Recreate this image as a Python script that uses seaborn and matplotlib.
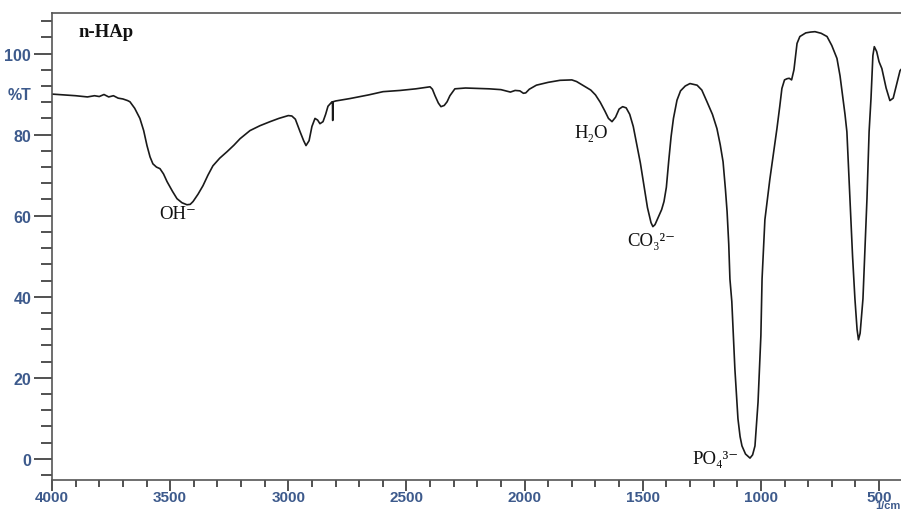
import pandas as pd
import matplotlib.pyplot as plt
import seaborn as sns
from matplotlib.ticker import MultipleLocator

# FTIR spectrum of n-HAp (10 values per row)
wavenumber = [
    4000, 3950, 3900, 3850, 3820, 3800, 3780, 3760, 3740, 3720,
    3700, 3680, 3670, 3650, 3628, 3612, 3598, 3585, 3573, 3558,
    3543, 3528, 3513, 3490, 3471, 3450, 3429, 3415, 3403, 3382,
    3361, 3340, 3319, 3290, 3259, 3230, 3204, 3162, 3120, 3077,
    3040, 3000, 2985, 2970, 2950, 2935, 2925, 2912, 2900, 2887,
    2876, 2866, 2853, 2842, 2832, 2815, 2813, 2812, 2811, 2800,
    2739, 2660, 2599, 2527, 2460, 2422, 2400, 2390, 2379, 2365,
    2354, 2340, 2328, 2316, 2295, 2250, 2200, 2150, 2100, 2080,
    2060, 2040, 2020, 2005, 1995, 1980, 1950, 1900, 1850, 1800,
    1780, 1760, 1740, 1720, 1700, 1680, 1660, 1645, 1630, 1615,
    1600, 1585, 1570, 1555, 1540, 1525, 1510, 1495, 1480, 1465,
    1457, 1448, 1435, 1420, 1410, 1400, 1390, 1380, 1370, 1355,
    1340, 1320, 1300, 1270, 1250, 1228, 1205, 1186, 1172, 1160,
    1150, 1143, 1136, 1131, 1123, 1110, 1097, 1088, 1080, 1065,
    1046, 1035, 1025, 1012, 1000, 995, 983, 962, 945, 932,
    920, 911, 900, 889, 880, 870, 860, 847, 835, 810,
    790, 771, 745, 720, 700, 678, 665, 653, 644, 636,
    623, 612, 602, 593, 587, 580, 568, 551, 542, 534,
    526, 520, 510, 500, 488, 470, 454, 440, 425, 411,
    400,
]
transmittance = [
    90.0, 89.8, 89.6, 89.3, 89.6, 89.4, 89.9, 89.3, 89.6, 89.0,
    88.8, 88.4, 88.1, 86.5, 84.0, 81.0, 77.3, 74.5, 72.8, 72.0,
    71.6, 70.3, 68.4, 66.0, 64.2, 63.2, 62.7, 62.8, 63.5, 65.3,
    67.4, 70.0, 72.3, 74.2, 75.8, 77.4, 79.0, 81.0, 82.2, 83.2,
    84.0, 84.7, 84.6, 83.8, 80.7, 78.5, 77.3, 78.5, 82.0, 84.0,
    83.6, 82.7, 83.2, 85.0, 87.0, 88.1, 88.1, 83.5, 88.1, 88.3,
    88.9, 89.8, 90.6, 90.9, 91.3, 91.6, 91.8, 91.2, 89.6, 87.8,
    86.9, 87.2, 88.1, 89.6, 91.3, 91.5, 91.4, 91.3, 91.1, 90.8,
    90.5, 90.9, 90.8, 90.2, 90.3, 91.2, 92.2, 92.9, 93.4, 93.5,
    93.1, 92.4, 91.7, 91.0, 89.8, 88.0, 85.8, 84.0, 83.2, 84.3,
    86.3, 86.9, 86.6, 85.0, 82.0, 77.5, 73.0, 67.5, 62.0, 58.3,
    57.3, 57.8, 59.5, 61.5, 63.5, 67.0, 73.5, 79.5, 84.0, 88.5,
    90.8, 92.0, 92.6, 92.2, 91.0, 88.1, 85.0, 81.5, 77.5, 73.3,
    66.5, 61.0, 53.0, 44.4, 38.8, 22.2, 9.9, 5.5, 3.2, 1.2,
    0.2, 1.0, 3.2, 14.0, 30.4, 44.4, 59.0, 69.0, 76.0, 81.5,
    87.0, 91.4, 93.5, 93.8, 93.9, 93.5, 96.0, 102.5, 104.2, 105.1,
    105.3, 105.4, 105.0, 104.2, 102.0, 98.8, 94.5, 89.0, 85.0, 80.7,
    64.2, 50.0, 39.5, 32.0, 29.4, 31.0, 39.5, 64.2, 80.7, 88.9,
    99.5, 101.7, 100.5, 98.0, 96.3, 91.5, 88.4, 89.0, 92.5, 95.8,
    96.5,
]

# peak annotations (label, wavenumber, %T)
peak_labels = ["OH⁻", "H₂O", "CO₃²⁻", "PO₄³⁻"]
peak_x = [3467, 1719, 1465, 1190]
peak_y = [60.5, 80.5, 53.8, 0.0]

df = pd.DataFrame({"wavenumber": wavenumber, "T": transmittance})

sns.set_style("ticks")

fig = plt.figure(figsize=(9.01, 5.10), dpi=100)
ax = fig.add_axes([0.0577, 0.0569, 0.9423, 0.9156])

sns.lineplot(data=df, x="wavenumber", y="T", sort=False, estimator=None,
             color="#1a1a1a", linewidth=1.2, ax=ax)

ax.set_xlim(4000, 407)
ax.set_ylim(-5.2, 110)
ax.xaxis.set_major_locator(MultipleLocator(500))
ax.xaxis.set_minor_locator(MultipleLocator(100))
ax.yaxis.set_major_locator(MultipleLocator(20))
ax.yaxis.set_minor_locator(MultipleLocator(4))

tick_col = "#3d5a8c"
for lab in ax.get_xticklabels() + ax.get_yticklabels():
    lab.set_fontfamily("Liberation Sans")
    lab.set_fontweight("bold")
    lab.set_fontsize(11.5)
    lab.set_color(tick_col)
for lab in ax.get_xticklabels():
    lab.set_fontsize(11)
ax.tick_params(axis="x", which="major", length=8, width=1.2, color="#333333", pad=-1)
ax.tick_params(axis="x", which="minor", length=5, width=1.2, color="#333333")
ax.tick_params(axis="y", which="major", length=13, width=1.2, color="#333333", pad=2)
ax.tick_params(axis="y", which="minor", length=8, width=1.2, color="#333333")
ax.set_xlabel("")
ax.set_ylabel("")

for side in ["top", "left", "bottom"]:
    ax.spines[side].set_color("#555555")
    ax.spines[side].set_linewidth(1.2)
ax.spines["right"].set_visible(False)

serif = ["Liberation Serif", "DejaVu Serif"]
for lab, x, y in zip(peak_labels, peak_x, peak_y):
    ax.text(x, y, lab, fontsize=13.5, family=serif, ha="center", va="center",
            color="#111111")
ax.text(3771, 105.4, "n-HAp", fontsize=13.5, family=serif, fontweight="bold",
        ha="center", va="center", color="#111111")

fig.text(8 / 901, 1 - 95 / 510, "%T", fontsize=11.5, family="Liberation Sans",
         fontweight="bold", color=tick_col, ha="left", va="center")
fig.text(1.0, 1 / 510, "1/cm", fontsize=8, family="Liberation Sans",
         fontweight="bold", color=tick_col, ha="right", va="baseline")

fig.savefig("out.png", dpi=100)
